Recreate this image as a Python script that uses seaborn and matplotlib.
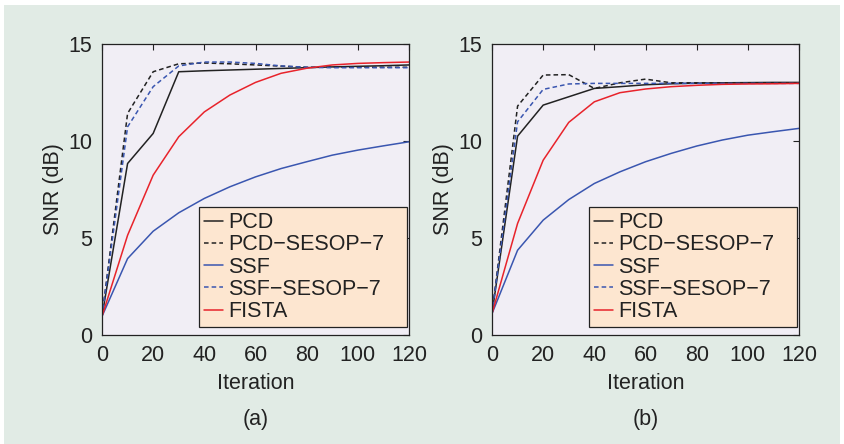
import numpy as np
import pandas as pd
import matplotlib
matplotlib.use("Agg")
import matplotlib.pyplot as plt
from matplotlib.patches import Rectangle
import seaborn as sns

sns.set_theme(style="white")
plt.rcParams["font.family"] = ["Liberation Sans", "DejaVu Sans"]

iterations = [0, 10, 20, 30, 40, 50, 60, 70, 80, 90, 100, 110, 120]

# Panel (a)
pcd_a = [0.96, 8.84, 10.39, 13.57, 13.62, 13.66, 13.70, 13.74, 13.78, 13.82, 13.85, 13.88, 13.92]
pcd_sesop_a = [0.96, 11.42, 13.57, 13.98, 14.02, 13.98, 13.92, 13.86, 13.80, 13.80, 13.80, 13.80, 13.80]
ssf_a = [0.96, 3.94, 5.35, 6.30, 7.04, 7.64, 8.15, 8.58, 8.93, 9.27, 9.53, 9.75, 9.96]
ssf_sesop_a = [0.96, 10.73, 12.80, 13.87, 14.07, 14.07, 14.00, 13.87, 13.80, 13.78, 13.78, 13.78, 13.78]
fista_a = [0.96, 5.14, 8.24, 10.22, 11.50, 12.37, 13.02, 13.49, 13.75, 13.92, 14.00, 14.04, 14.07]

# Panel (b)
pcd_b = [1.10, 10.25, 11.85, 12.28, 12.71, 12.80, 12.90, 12.95, 12.98, 13.00, 13.01, 13.02, 13.02]
pcd_sesop_b = [1.10, 11.80, 13.40, 13.42, 12.71, 13.00, 13.19, 13.00, 13.00, 13.00, 13.00, 13.00, 13.00]
ssf_b = [1.10, 4.37, 5.92, 6.98, 7.81, 8.41, 8.93, 9.36, 9.74, 10.05, 10.30, 10.48, 10.65]
ssf_sesop_b = [1.10, 10.99, 12.66, 12.94, 12.97, 12.97, 12.97, 12.97, 12.97, 12.97, 12.97, 12.97, 12.97]
fista_b = [1.10, 5.75, 9.01, 10.96, 12.02, 12.49, 12.68, 12.80, 12.87, 12.92, 12.94, 12.95, 12.97]

methods = ["PCD", "PCD\u2212SESOP\u22127", "SSF", "SSF\u2212SESOP\u22127", "FISTA"]
colors = ["#222222", "#222222", "#3a56b0", "#3a56b0", "#e8232b"]
dashes = ["-", (0, (3, 2)), "-", (0, (3, 2)), "-"]

panels = {
    "(a)": [pcd_a, pcd_sesop_a, ssf_a, ssf_sesop_a, fista_a],
    "(b)": [pcd_b, pcd_sesop_b, ssf_b, ssf_sesop_b, fista_b],
}

FS = 15.5
W, H = 844, 444
fig = plt.figure(figsize=(W / 100, H / 100), dpi=100)
fig.patch.set_facecolor("white")
fig.add_artist(Rectangle((4 / W, 0), 836 / W, (H - 5) / H, transform=fig.transFigure,
                         facecolor="#e1ebe5", edgecolor="none", zorder=-10))

axes_left = [102, 492]
ax_w = 307
ax_top, ax_bot = 44, 335

for left, (tag, series) in zip(axes_left, panels.items()):
    ax = fig.add_axes([left / W, (H - ax_bot) / H, ax_w / W, (ax_bot - ax_top) / H])
    ax.set_facecolor("#f1eef5")
    for name, vals, c, ls in zip(methods, series, colors, dashes):
        df = pd.DataFrame({"Iteration": iterations, "SNR": vals})
        sns.lineplot(data=df, x="Iteration", y="SNR", ax=ax, color=c,
                     linestyle=ls, linewidth=1.1, label=name)
    ax.set_xlim(0, 120)
    ax.set_ylim(0, 15)
    ax.set_xticks(range(0, 121, 20))
    ax.set_yticks([0, 5, 10, 15])
    ax.tick_params(direction="in", length=4, width=0.8, top=True, right=True,
                   labelsize=FS, colors="#222222", pad=7)
    for s in ax.spines.values():
        s.set_color("#222222")
        s.set_linewidth(0.9)
    ax.set_xlabel("Iteration", fontsize=FS, color="#222222", labelpad=5)
    ax.set_ylabel("SNR (dB)", fontsize=FS, color="#222222", labelpad=3)
    ax.text(0.5, -0.29, tag, transform=ax.transAxes, ha="center", va="center",
            fontsize=FS, color="#222222")
    leg = ax.legend(loc="lower left", bbox_to_anchor=(0.316, 0.0275, 0.6775, 0.0),
                    mode="expand", fontsize=FS,
                    handlelength=0.9, handletextpad=0.25, labelspacing=0.06,
                    borderpad=0.22, borderaxespad=0, fancybox=False, framealpha=1,
                    facecolor="#fde6d0", edgecolor="#222222")
    leg.get_frame().set_linewidth(0.9)
    for t in leg.get_texts():
        t.set_color("#222222")

fig.savefig("out.png", dpi=100)
